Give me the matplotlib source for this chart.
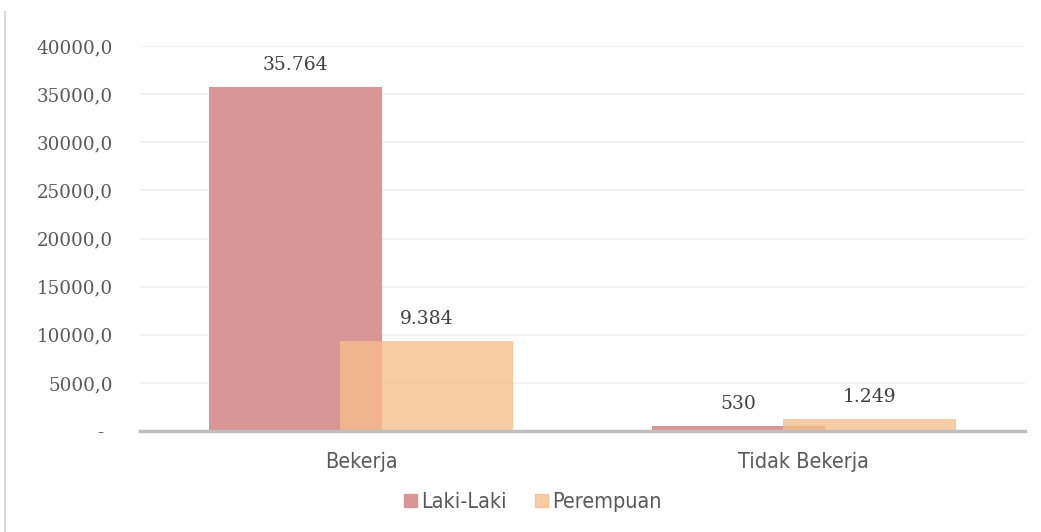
import matplotlib.pyplot as plt
import numpy as np
from matplotlib.lines import Line2D

categories = ["Bekerja", "Tidak Bekerja"]
laki = [35764, 530]
perempuan = [9384, 1249]
labels_laki = ["35.764", "530"]
labels_perempuan = ["9.384", "1.249"]
yticks = [0, 5000, 10000, 15000, 20000, 25000, 30000, 35000, 40000]

fig = plt.figure(figsize=(10.41, 5.32), dpi=100)
ax = fig.add_axes([140/1041, 1 - 431/532, 885/1041, 385/532])

x = np.arange(len(categories))
w = 0.391
off = 0.148
ax.bar(x - off, laki, w, color="#D99694", zorder=2)
ax.bar(x + off, perempuan, w, color="#F6BE8D", alpha=0.8, zorder=3)

serif = ["DejaVu Serif"]
for i in range(len(categories)):
    ax.annotate(labels_laki[i], (x[i] - off, laki[i]), xytext=(0, 22), textcoords="offset pixels",
                ha="center", va="center", fontsize=13.5, color="#404040", family=serif)
    ax.annotate(labels_perempuan[i], (x[i] + off, perempuan[i]), xytext=(0, 22), textcoords="offset pixels",
                ha="center", va="center", fontsize=13.5, color="#404040", family=serif)

ax.set_xlim(-0.5, 1.5)
ax.set_ylim(0, 40000)
ax.set_yticks(yticks)
ax.set_yticklabels(["-\u2002"] + [f"{v},0" for v in yticks[1:]], family=serif, fontsize=13.2, color="#595959")
ax.set_xticks(x)
ax.set_xticklabels(categories, family="DejaVu Sans", stretch="condensed", fontsize=15.5, color="#595959")
ax.tick_params(axis="both", length=0)
ax.tick_params(axis="y", pad=19.5)
ax.tick_params(axis="x", pad=15)
ax.grid(axis="y", color="#F0F0F0", linewidth=1.2, zorder=0)
for s in ["top", "right", "left"]:
    ax.spines[s].set_visible(False)
ax.spines["bottom"].set_color("#BFBFBF")
ax.spines["bottom"].set_linewidth(2.5)
ax.spines["bottom"].set_zorder(4)

handles = [plt.Rectangle((0, 0), 1, 1, color="#D99694"),
           plt.Rectangle((0, 0), 1, 1, color="#F6BE8D", alpha=0.8)]
fig.legend(handles, ["Laki-Laki", "Perempuan"], loc="center", bbox_to_anchor=(0.512, 1 - 502/532),
           ncol=2, frameon=False, handlelength=0.6, handleheight=0.6, handletextpad=0.2,
           columnspacing=1.3, prop={"family": "DejaVu Sans", "stretch": "condensed", "size": 15.5},
           labelcolor="#595959")

fig.add_artist(Line2D([5/1041, 5/1041], [0, 1 - 12/532], color="#D9D9D9", linewidth=1.5))

fig.savefig("out.png", dpi=100)
